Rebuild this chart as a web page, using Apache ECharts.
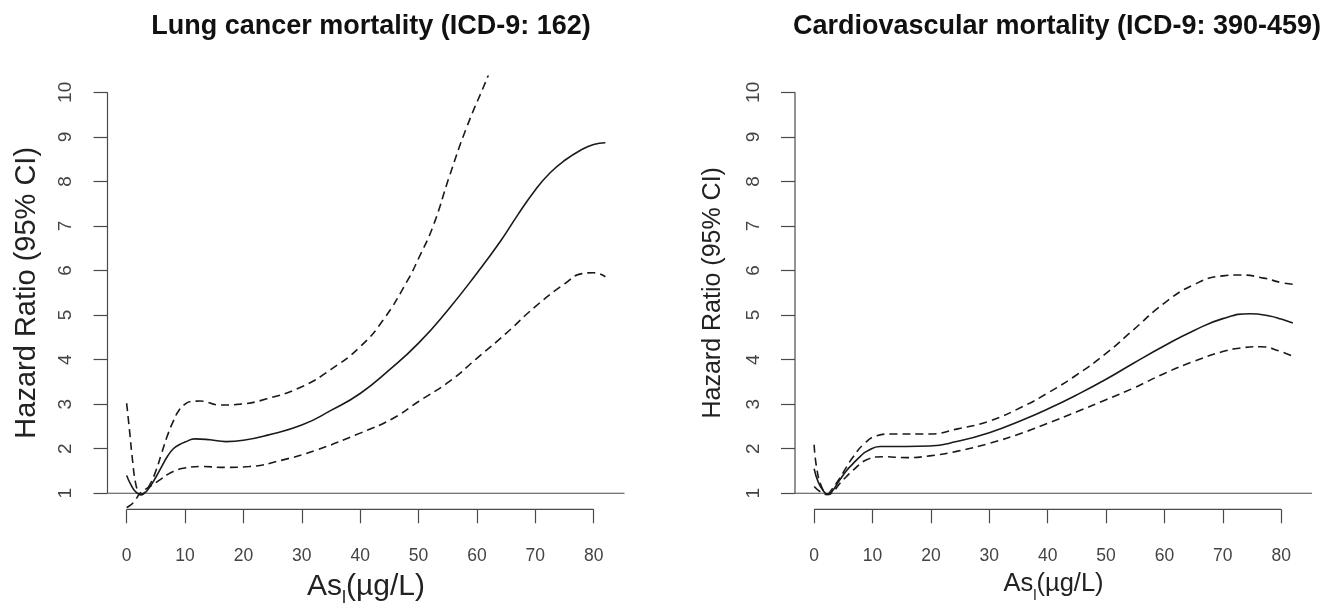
<!DOCTYPE html>
<html>
<head>
<meta charset="utf-8">
<script src="https://cdn.jsdelivr.net/npm/echarts@6/dist/echarts.min.js"></script>
<style>
html,body{margin:0;padding:0;background:#fff;}
#main{width:1325px;height:603px;}
</style>
</head>
<body>
<div id="main"></div>
<script>
// ---- data ----
var xTicks = [0, 10, 20, 30, 40, 50, 60, 70, 80];
var yTicks = [1, 2, 3, 4, 5, 6, 7, 8, 9, 10];
var titles = ['Lung cancer mortality (ICD-9: 162)', 'Cardiovascular mortality (ICD-9: 390-459)'];

var lungHRx = [0, 0.7, 1.5, 2.3, 3, 4, 5, 6, 7, 8, 9, 10, 11.7, 14.3, 17, 20, 24, 30, 35, 40, 45, 50, 55, 60, 64, 67, 70, 72.5, 75, 78, 80, 82];
var lungHRy = [1.40, 1.20, 1.04, 0.98, 1.0, 1.15, 1.36, 1.60, 1.83, 2.0, 2.09, 2.15, 2.22, 2.20, 2.16, 2.19, 2.30, 2.53, 2.86, 3.24, 3.77, 4.37, 5.11, 5.94, 6.65, 7.25, 7.81, 8.19, 8.47, 8.72, 8.83, 8.87];
var lungUpx = [0, 0.5, 1, 1.5, 2, 2.5, 3, 4, 5, 6, 7, 8, 9, 10, 11, 12.6, 16, 19.4, 24, 30, 35, 40, 44, 48, 50, 52.5, 55.3, 58.2, 62, 64];
var lungUpy = [3.02, 2.4, 1.75, 1.25, 1.03, 0.96, 1.0, 1.2, 1.5, 1.9, 2.3, 2.62, 2.87, 3.0, 3.06, 3.07, 2.98, 3.0, 3.12, 3.39, 3.78, 4.29, 4.9, 5.75, 6.27, 7.0, 8.12, 9.2, 10.4, 11.1];
var lungLox = [0, 0.5, 1, 1.5, 2.3, 3, 4, 5, 6, 7, 8, 9.7, 12.6, 17, 21, 26.8, 32.5, 40, 45.6, 50, 55.3, 60, 65, 70, 75, 78, 80, 82];
var lungLoy = [0.68, 0.72, 0.77, 0.85, 1.0, 1.07, 1.15, 1.24, 1.33, 1.42, 1.49, 1.56, 1.60, 1.58, 1.60, 1.75, 1.97, 2.35, 2.68, 3.06, 3.51, 4.03, 4.59, 5.19, 5.70, 5.93, 5.95, 5.86];

var cvdHRx = [0, 0.7, 1.5, 2.3, 3, 4.4, 5.5, 6.7, 8, 9, 11.3, 15.8, 19.8, 24.4, 30, 35.8, 40, 45, 50, 54.7, 60, 65, 70, 74.7, 78, 80, 82];
var cvdHRy = [1.55, 1.25, 1.07, 0.98, 1.03, 1.30, 1.50, 1.67, 1.84, 1.94, 2.05, 2.05, 2.06, 2.16, 2.36, 2.65, 2.89, 3.21, 3.56, 3.92, 4.31, 4.65, 4.92, 5.03, 4.98, 4.91, 4.82];
var cvdUpx = [0, 0.4, 1.26, 2.3, 3, 4.4, 5.5, 6.7, 8.4, 10.7, 13, 19.8, 24.4, 30, 35.8, 40, 45, 50, 54.7, 60, 65, 70, 73, 77, 80, 82];
var cvdUpy = [2.09, 1.6, 1.15, 0.99, 1.08, 1.34, 1.58, 1.82, 2.09, 2.29, 2.33, 2.33, 2.44, 2.62, 2.95, 3.25, 3.66, 4.14, 4.67, 5.27, 5.68, 5.88, 5.90, 5.83, 5.73, 5.69];
var cvdLox = [0, 1, 2.3, 3, 4.4, 5.5, 6.7, 9, 11.8, 15.8, 19.8, 24.4, 30, 35.8, 40, 45, 50, 54.7, 60, 65, 70, 73, 76.4, 80, 82];
var cvdLoy = [1.15, 1.04, 0.97, 1.0, 1.22, 1.37, 1.52, 1.75, 1.82, 1.80, 1.84, 1.94, 2.12, 2.36, 2.57, 2.83, 3.10, 3.36, 3.69, 3.96, 4.18, 4.26, 4.29, 4.18, 4.07];

// ---- helpers ----
function pairs(xs, ys) { return xs.map(function (x, i) { return [x, ys[i]]; }); }
var FONT = '"Liberation Sans", Arial, sans-serif';
var AX = '#4a4a4a';
var XMIN = -3.28, XMAX = 85.28, YMIN = 0.64, YMAX = 10.36;

function mkX(idx, nameSize) {
  return {
    type: 'value', gridIndex: idx, min: XMIN, max: XMAX,
    axisLine: { show: false, onZero: false },
    splitLine: { show: false },
    axisTick: { show: true, inside: false, length: 14, customValues: xTicks, lineStyle: { color: AX, width: 1.2 } },
    axisLabel: { show: true, customValues: xTicks, margin: 38, fontSize: 17.5, color: '#444', fontFamily: FONT },
    name: '{a|As}{b|l}{a|(µg/L)}',
    nameLocation: 'middle', nameGap: 62,
    nameTextStyle: {
      rich: {
        a: { fontSize: nameSize, fontFamily: FONT, color: '#222' },
        b: { fontSize: Math.round(nameSize * 0.6), fontFamily: FONT, color: '#222', verticalAlign: 'bottom', padding: [0, 0, -6, 0] }
      }
    }
  };
}
function mkY(idx, nameSize, gap) {
  return {
    type: 'value', gridIndex: idx, min: YMIN, max: YMAX,
    axisLine: { show: false, onZero: false },
    splitLine: { show: false },
    axisTick: { show: true, length: 14, customValues: yTicks, lineStyle: { color: AX, width: 1.2 } },
    axisLabel: { show: true, customValues: yTicks, rotate: 90, margin: 32, fontSize: 19, color: '#444', fontFamily: FONT },
    name: 'Hazard Ratio (95% CI)',
    nameLocation: 'middle', nameGap: gap, nameRotate: 90,
    nameTextStyle: { fontSize: nameSize, fontFamily: FONT, color: '#222' }
  };
}
function curve(idx, xs, ys, dashed) {
  return {
    type: 'line', xAxisIndex: idx, yAxisIndex: idx,
    data: pairs(xs, ys), showSymbol: false, symbol: 'none',
    smooth: 0.5, clip: true, silent: true,
    lineStyle: { color: '#1a1a1a', width: 1.6, type: dashed ? [8, 5] : 'solid' },
    z: 5
  };
}
function frame(idx) {
  return [
    { type: 'line', xAxisIndex: idx, yAxisIndex: idx, clip: false, silent: true, symbol: 'none',
      data: [[xTicks[0], YMIN], [xTicks[xTicks.length - 1], YMIN]],
      lineStyle: { color: AX, width: 1.2 } },
    { type: 'line', xAxisIndex: idx, yAxisIndex: idx, clip: false, silent: true, symbol: 'none',
      data: [[XMIN, yTicks[0]], [XMIN, yTicks[yTicks.length - 1]]],
      lineStyle: { color: AX, width: 1.2 } },
    { type: 'line', xAxisIndex: idx, yAxisIndex: idx, clip: false, silent: true, symbol: 'none',
      data: [[XMIN, 1], [XMAX, 1]],
      lineStyle: { color: AX, width: 1.2 } }
  ];
}

var chart = echarts.init(document.getElementById('main'), null, { renderer: 'canvas' });
var option = {
  backgroundColor: '#fff',
  animation: false,
  title: [
    { text: titles[0], left: 366, top: 8, textAlign: 'center',
      textStyle: { fontSize: 27, fontWeight: 'bold', color: '#111', fontFamily: FONT } },
    { text: titles[1], left: 1052, top: 8, textAlign: 'center',
      textStyle: { fontSize: 27, fontWeight: 'bold', color: '#111', fontFamily: FONT } }
  ],
  grid: [
    { left: 107.5, top: 76.3, width: 517, height: 433, outerBoundsMode: 'none', containLabel: false },
    { left: 795, top: 76.3, width: 517, height: 433, outerBoundsMode: 'none', containLabel: false }
  ],
  xAxis: [mkX(0, 30), mkX(1, 25.5)],
  yAxis: [mkY(0, 29, 66), mkY(1, 25, 69)],
  series: [].concat(
    frame(0), frame(1),
    [
      curve(0, lungHRx, lungHRy, false),
      curve(0, lungUpx, lungUpy, true),
      curve(0, lungLox, lungLoy, true),
      curve(1, cvdHRx, cvdHRy, false),
      curve(1, cvdUpx, cvdUpy, true),
      curve(1, cvdLox, cvdLoy, true)
    ]
  )
};
chart.setOption(option);
</script>
</body>
</html>
